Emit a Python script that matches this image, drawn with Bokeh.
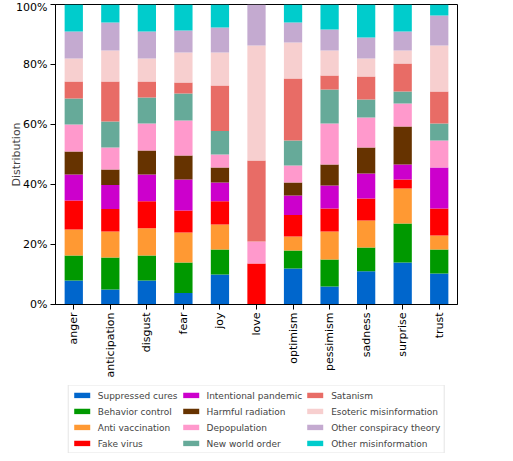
import math
from bokeh.plotting import figure
from bokeh.layouts import column
from bokeh.models import Legend, LegendItem, FixedTicker, PrintfTickFormatter, ColumnDataSource, Range1d
from bokeh.embed import file_html
from bokeh.resources import INLINE

emotions = ["anger", "anticipation", "disgust", "fear", "joy", "love",
            "optimism", "pessimism", "sadness", "surprise", "trust"]

series = ["Suppressed cures", "Behavior control", "Anti vaccination", "Fake virus",
          "Intentional pandemic", "Harmful radiation", "Depopulation", "New world order",
          "Satanism", "Esoteric misinformation", "Other conspiracy theory", "Other misinformation"]

suppressed_cures = [8.0, 5.0, 8.0, 3.8, 10.0, 0.0, 12.0, 6.0, 11.1, 14.0, 10.3]
behavior_control = [8.3, 10.7, 8.3, 10.2, 8.3, 0.0, 6.0, 9.0, 7.9, 13.0, 8.0]
anti_vaccination = [8.7, 8.6, 9.1, 10.0, 8.4, 0.0, 4.7, 9.3, 9.0, 11.7, 4.7]
fake_virus = [9.7, 7.5, 9.0, 7.3, 7.7, 13.7, 7.1, 7.7, 7.3, 3.0, 9.0]
intentional_pandemic = [8.6, 8.0, 8.9, 10.4, 6.3, 0.0, 6.5, 7.7, 8.4, 5.0, 13.7]
harmful_radiation = [7.7, 5.2, 8.0, 8.0, 5.0, 0.0, 4.4, 7.0, 8.6, 12.6, 0.0]
depopulation = [9.0, 7.3, 9.0, 11.6, 4.3, 7.3, 5.6, 13.6, 10.0, 7.7, 9.0]
new_world_order = [8.7, 8.7, 8.7, 9.0, 7.8, 0.0, 8.4, 11.4, 6.0, 4.0, 5.6]
satanism = [5.6, 13.3, 5.3, 3.7, 15.2, 27.0, 20.6, 4.6, 7.7, 9.3, 10.7]
esoteric_misinformation = [7.7, 10.4, 7.7, 10.0, 11.0, 38.3, 12.0, 8.4, 6.0, 4.4, 15.3]
other_conspiracy_theory = [9.0, 9.3, 9.0, 7.3, 8.3, 13.7, 6.7, 7.0, 7.0, 6.3, 10.0]
other_misinformation = [9.0, 6.0, 9.0, 8.7, 7.7, 0.0, 6.0, 8.3, 11.0, 9.0, 3.7]

values = [suppressed_cures, behavior_control, anti_vaccination, fake_virus,
          intentional_pandemic, harmful_radiation, depopulation, new_world_order,
          satanism, esoteric_misinformation, other_conspiracy_theory, other_misinformation]

colors = ["#0066cc", "#009900", "#ff9933", "#ff0000", "#cc00cc", "#663300",
          "#ff99cc", "#66aa99", "#e86c66", "#f7cfcf", "#c4aad0", "#00cccc"]

y_ticks = [0, 20, 40, 60, 80, 100]

# normalise each emotion to 100%
totals = [sum(v[i] for v in values) for i in range(len(emotions))]
keys = ["s%d" % k for k in range(len(series))]
data = {"emotion": emotions}
for k, v in zip(keys, values):
    data[k] = [v[i] * 100.0 / totals[i] for i in range(len(emotions))]
source = ColumnDataSource(data)

FONT = "DejaVu Sans"
FS = "11px"

p = figure(x_range=emotions, y_range=Range1d(0, 100),
           frame_width=402, frame_height=300,
           min_border_left=55, min_border_top=4, min_border_right=48, min_border_bottom=81,
           output_backend="svg", toolbar_location=None)

p.vbar_stack(keys, x="emotion", width=0.5, source=source,
             color=colors, line_color=None)

p.xgrid.visible = False
p.ygrid.visible = False
p.outline_line_color = "black"
p.outline_line_width = 1

p.yaxis.ticker = FixedTicker(ticks=y_ticks)
p.yaxis.formatter = PrintfTickFormatter(format="%d%%")
p.yaxis.axis_label = "Distribution"
p.yaxis.axis_label_text_font_style = "normal"
p.yaxis.axis_label_text_font_size = FS
p.yaxis.axis_label_text_font = FONT
p.yaxis.axis_label_standoff = -10
p.yaxis.minor_tick_line_color = None

for ax in (p.xaxis, p.yaxis):
    ax.major_label_text_font = FONT
    ax.major_label_text_font_size = FS
    ax.major_label_text_color = "black"
    ax.axis_line_color = "black"
    ax.major_tick_line_color = "black"
    ax.major_tick_out = 5
    ax.major_tick_in = 0
    ax.major_label_standoff = 3

p.xaxis.major_label_orientation = math.pi / 2
p.xaxis.minor_tick_line_color = None

# legend panel below the chart: same stacked data, drawn outside its visible range
lp = figure(x_range=p.x_range, y_range=Range1d(200, 300),
            width=505, height=68,
            x_axis_location=None, y_axis_location=None,
            min_border_left=55, min_border_right=48, min_border_top=0, min_border_bottom=0,
            output_backend="svg", toolbar_location=None)
lp.grid.visible = False
lp.outline_line_color = None
proxies = lp.vbar_stack(keys, x="emotion", width=0.5, source=source,
                        color=colors, line_color=None)

items = [LegendItem(label=s, renderers=[r]) for s, r in zip(series, proxies)]
legend = Legend(items=items, orientation="vertical", nrows=4,
                location="center",
                label_text_font=FONT, label_text_font_size="9px",
                glyph_width=20, glyph_height=7, label_standoff=6,
                spacing=3, padding=3, margin=0,
                border_line_color="#cccccc", border_line_width=1,
                label_height=13)
lp.add_layout(legend, "center")

layout = column(p, lp, spacing=0)
open("out.html", "w").write(file_html(layout, INLINE))
